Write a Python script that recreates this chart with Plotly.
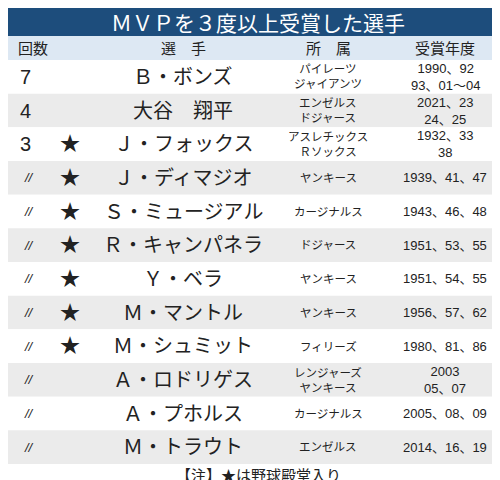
import plotly.graph_objects as go

title = "ＭＶＰを３度以上受賞した選手"
headers = ["回数", "選　手", "所　属", "受賞年度"]
counts = ["7", "4", "3", "〃", "〃", "〃", "〃", "〃", "〃", "〃", "〃", "〃"]
hof = [False, False, True, True, True, True, True, True, True, False, False, False]
players = ["Ｂ・ボンズ", "大谷　翔平", "Ｊ・フォックス", "Ｊ・ディマジオ", "Ｓ・ミュージアル",
           "Ｒ・キャンパネラ", "Ｙ・ベラ", "Ｍ・マントル", "Ｍ・シュミット", "Ａ・ロドリゲス",
           "Ａ・プホルス", "Ｍ・トラウト"]
teams = ["パイレーツ<br>ジャイアンツ", "エンゼルス<br>ドジャース", "アスレチックス<br>Ｒソックス",
         "ヤンキース", "カージナルス", "ドジャース", "ヤンキース", "ヤンキース", "フィリーズ",
         "レンジャーズ<br>ヤンキース", "カージナルス", "エンゼルス"]
years = ["1990、92<br>93、01～04", "2021、23<br>24、25", "1932、33<br>38",
         "1939、41、47", "1943、46、48", "1951、53、55", "1951、54、55", "1956、57、62",
         "1980、81、86", "2003<br>05、07", "2005、08、09", "2014、16、19"]
note = "【注】★は野球殿堂入り"

F = "Liberation Sans, Noto Sans CJK JP"
W, H = 500, 480
top_rows = 52
row_h = (456 - 52) / 12

fig = go.Figure()
shapes, ann = [], []
shapes.append(dict(type="rect", x0=0, x1=W, y0=0, y1=28, fillcolor="#1d4d7c", line_width=0, layer="below"))
shapes.append(dict(type="rect", x0=0, x1=W, y0=28, y1=52, fillcolor="#dde8f3", line_width=0, layer="below"))
ann.append(dict(x=W/2, y=15, text=title, font=dict(family=F, size=21, color="white")))
hx = [25, 175, 320, 437]
for x, h in zip(hx, headers):
    ann.append(dict(x=x, y=40, text=h, font=dict(family=F, size=15, color="#222")))
for i in range(len(players)):
    y0 = top_rows + i * row_h
    yc = y0 + row_h / 2
    shapes.append(dict(type="rect", x0=0, x1=W, y0=y0, y1=y0 + row_h,
                       fillcolor="#ebebeb" if i % 2 else "white", line_width=0, layer="below"))
    cnt = counts[i]
    ann.append(dict(x=10 if cnt != "〃" else 14, y=yc, text=cnt if cnt != "〃" else "<i>//</i>",
                    xanchor="left", font=dict(family=F, size=20 if cnt != "〃" else 13, color="#222")))
    if hof[i]:
        ann.append(dict(x=62, y=yc, text="★", font=dict(family=F, size=20, color="#222")))
    ann.append(dict(x=175, y=yc, text=players[i], font=dict(family=F, size=20, color="#222")))
    ann.append(dict(x=320, y=yc, text=teams[i], font=dict(family=F, size=11.5, color="#222")))
    ann.append(dict(x=437, y=yc, text=years[i], font=dict(family=F, size=13, color="#222")))
ann.append(dict(x=W/2, y=467, text=note, font=dict(family=F, size=15, color="#222")))
for a in ann:
    a.update(xref="x", yref="y", showarrow=False, yanchor="middle")
    a.setdefault("xanchor", "center")
fig.update_layout(width=W, height=H, margin=dict(l=0, r=0, t=0, b=0),
                  paper_bgcolor="white", plot_bgcolor="white", shapes=shapes, annotations=ann,
                  xaxis=dict(range=[0, W], visible=False, fixedrange=True),
                  yaxis=dict(range=[H, 0], visible=False, fixedrange=True), showlegend=False)
fig.write_html("out.html", config={"displayModeBar": False})
